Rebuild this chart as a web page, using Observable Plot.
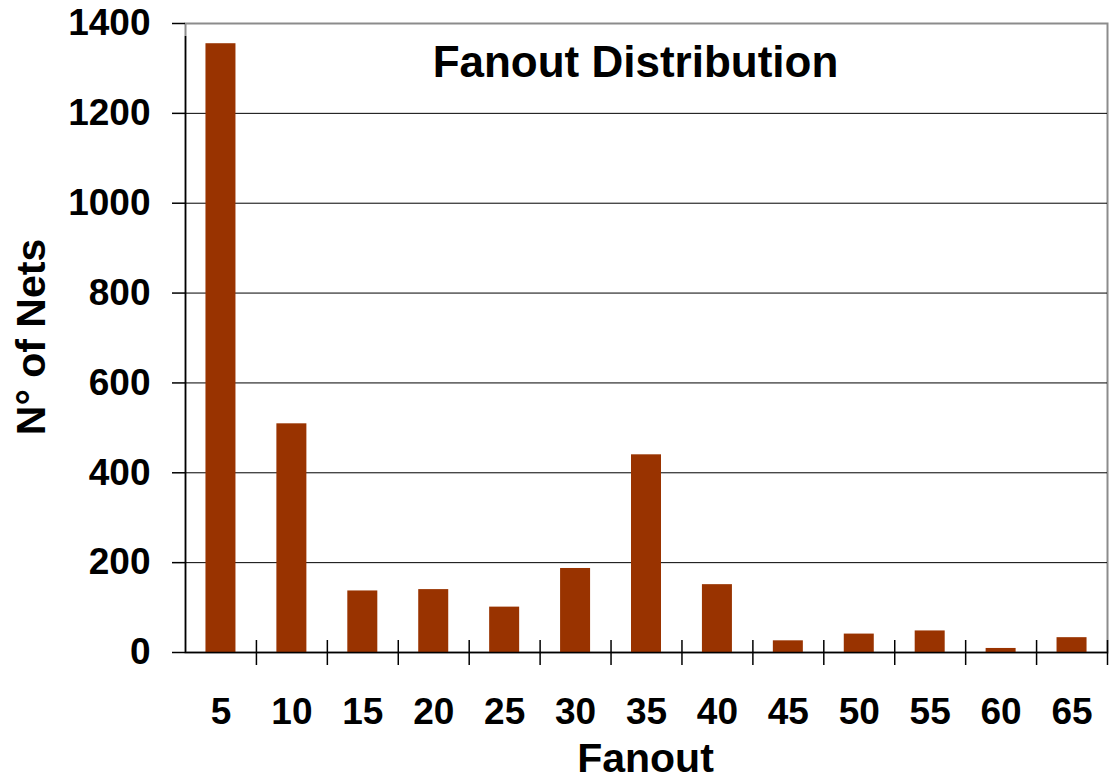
<!DOCTYPE html>
<html>
<head>
<meta charset="utf-8">
<script src="https://cdn.jsdelivr.net/npm/d3@7"></script>
<script src="https://cdn.jsdelivr.net/npm/@observablehq/plot@0.6"></script>
<style>
  html, body { margin: 0; padding: 0; background: #fff; }
  #chart svg { display: block; }
</style>
</head>
<body>
<div id="chart"></div>
<script>
const fanout = ["5", "10", "15", "20", "25", "30", "35", "40", "45", "50", "55", "60", "65"];
const nets = [1355, 509, 137, 140, 101, 187, 440, 151, 26, 41, 48, 9, 33];
const yTicks = [0, 200, 400, 600, 800, 1000, 1200, 1400];
const gridValues = [200, 400, 600, 800, 1000, 1200];
const titleText = "Fanout Distribution";
const xLabel = "Fanout";
const yLabel = "N° of Nets";

const data = fanout.map((f, i) => ({fanout: f, nets: nets[i]}));

const W = 1109, H = 780;
const mL = 185, mR = 2, mT = 23, mB = 128;
const step = (W - mL - mR) / fanout.length;
const padInner = 1 - 30 / step;
const font = "'Liberation Sans', Arial, Helvetica, sans-serif";

const chart = Plot.plot({
  width: W,
  height: H,
  marginLeft: mL,
  marginRight: mR,
  marginTop: mT,
  marginBottom: mB,
  style: {fontFamily: font, fontWeight: "bold", fontSize: "37px", color: "#000", background: "#fff"},
  x: {type: "band", domain: fanout, paddingInner: padInner, paddingOuter: padInner / 2, round: false},
  y: {domain: [0, 1400], ticks: yTicks},
  marks: [
    Plot.frame({stroke: "#8c8c8c", strokeWidth: 2}),
    Plot.ruleY(gridValues, {stroke: "#000", strokeWidth: 1}),
    Plot.barY(data, {x: "fanout", y: "nets", fill: "#993300"}),
    Plot.ruleY([0], {stroke: "#000", strokeWidth: 1.5}),
    // y axis line
    Plot.ruleX([fanout[0]], {dx: -step / 2, y1: 0, y2: 1400, insetBottom: -13, stroke: "#000", strokeWidth: 1.5}),
    // category boundary ticks
    Plot.ruleX(fanout.slice(1), {dx: -step / 2, y1: 0, y2: 0, insetTop: -12, insetBottom: -13, stroke: "#000", strokeWidth: 1.5}),
    Plot.ruleX([fanout[fanout.length - 1]], {dx: step / 2, y1: 0, y2: 0, insetTop: -12, insetBottom: -13, stroke: "#000", strokeWidth: 1.5}),
    Plot.axisY({ticks: yTicks, tickFormat: d => String(d), tickSize: 13, tickPadding: 22, strokeWidth: 1.5, label: null, fontSize: 37, fontWeight: "bold"}),
    Plot.axisX({tickSize: 0, tickPadding: 45, label: null, fontSize: 37, fontWeight: "bold"}),
    Plot.text([titleText], {frameAnchor: "top", lineAnchor: "top", dy: 22, dx: -11, fontSize: 44, fontWeight: "bold", fill: "#000"}),
    Plot.text([yLabel], {frameAnchor: "left", textAnchor: "middle", lineAnchor: "top", rotate: -90, dx: -170, dy: -1, fontSize: 41, fontWeight: "bold", fill: "#000"}),
    Plot.text([xLabel], {frameAnchor: "bottom", lineAnchor: "bottom", dy: 119, dx: -1, fontSize: 41, fontWeight: "bold", fill: "#000"})
  ]
});

document.getElementById("chart").appendChild(chart);
</script>
</body>
</html>
